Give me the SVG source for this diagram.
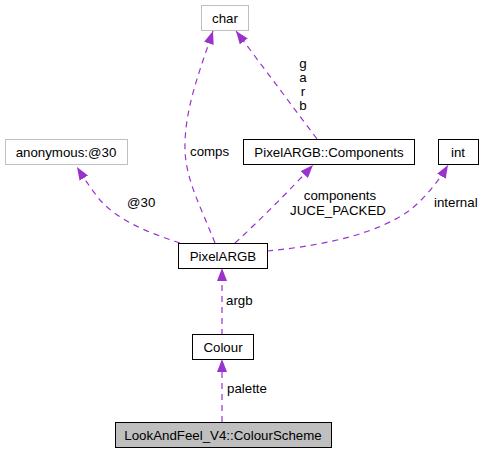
<svg xmlns="http://www.w3.org/2000/svg" width="483" height="453" viewBox="0 0 483 453">
<style>
.n rect{fill:#fff;stroke:#000;stroke-width:1}
.n.g rect{stroke:#bfbfbf}
.n.h rect{fill:#bfbfbf}
text{font-family:"Liberation Sans",Arial,sans-serif;font-size:13.3px;fill:#000}
.n text{text-anchor:middle}
.e path{fill:none;stroke:#9a32cd;stroke-width:1.2;stroke-dasharray:6,5}
</style>
<defs>
<marker id="a" viewBox="0 0 13 10" refX="13" refY="5" markerWidth="13" markerHeight="10" markerUnits="userSpaceOnUse" orient="auto">
<path d="M0,0 L13,5 L0,10 z" fill="#9a32cd" stroke="none"/>
</marker>
</defs>
<rect width="483" height="453" fill="#fff"/>
<g id="edges" class="e">
<path d="M215,243 C200,205 186,180 185,150 C184,110 200,70 213,31" marker-end="url(#a)"/>
<path d="M317,139 L236,31" marker-end="url(#a)"/>
<path d="M180,243 C150,233 120,222 100,200 C92,190 85,180 77,167" marker-end="url(#a)"/>
<path d="M235,243 C260,220 290,190 313,165" marker-end="url(#a)"/>
<path d="M267,251 C330,245 380,232 410,210 C425,198 438,182 448,165" marker-end="url(#a)"/>
<path d="M222,335 L222,268" marker-end="url(#a)"/>
<path d="M222,422 L222,359" marker-end="url(#a)"/>
</g>
<g id="labels">
<text x="190" y="156">comps</text>
<text x="303" y="68" text-anchor="middle">g</text>
<text x="303" y="82" text-anchor="middle">a</text>
<text x="303" y="96" text-anchor="middle">r</text>
<text x="303" y="110" text-anchor="middle">b</text>
<text x="127" y="207">@30</text>
<text x="340" y="200" text-anchor="middle">components</text>
<text x="338" y="215" text-anchor="middle">JUCE_PACKED</text>
<text x="434" y="207">internal</text>
<text x="226" y="305">argb</text>
<text x="227" y="393">palette</text>
</g>
<g id="char" class="n g"><rect x="201.5" y="5.5" width="47" height="25"/><text x="225" y="23">char</text></g>
<g id="anon" class="n g"><rect x="5.5" y="139.5" width="122" height="25"/><text x="66" y="157">anonymous:@30</text></g>
<g id="components" class="n"><rect x="243.5" y="139.5" width="171" height="25"/><text x="329" y="157">PixelARGB::Components</text></g>
<g id="int" class="n"><rect x="438.5" y="139.5" width="40" height="25"/><text x="458" y="157">int</text></g>
<g id="pixelargb" class="n"><rect x="178.5" y="243.5" width="89" height="25"/><text x="223" y="261">PixelARGB</text></g>
<g id="colour" class="n"><rect x="192.5" y="334.5" width="61" height="25"/><text x="223" y="352">Colour</text></g>
<g id="scheme" class="n h"><rect x="115.5" y="422.5" width="216" height="25"/><text x="223" y="440">LookAndFeel_V4::ColourScheme</text></g>
</svg>
